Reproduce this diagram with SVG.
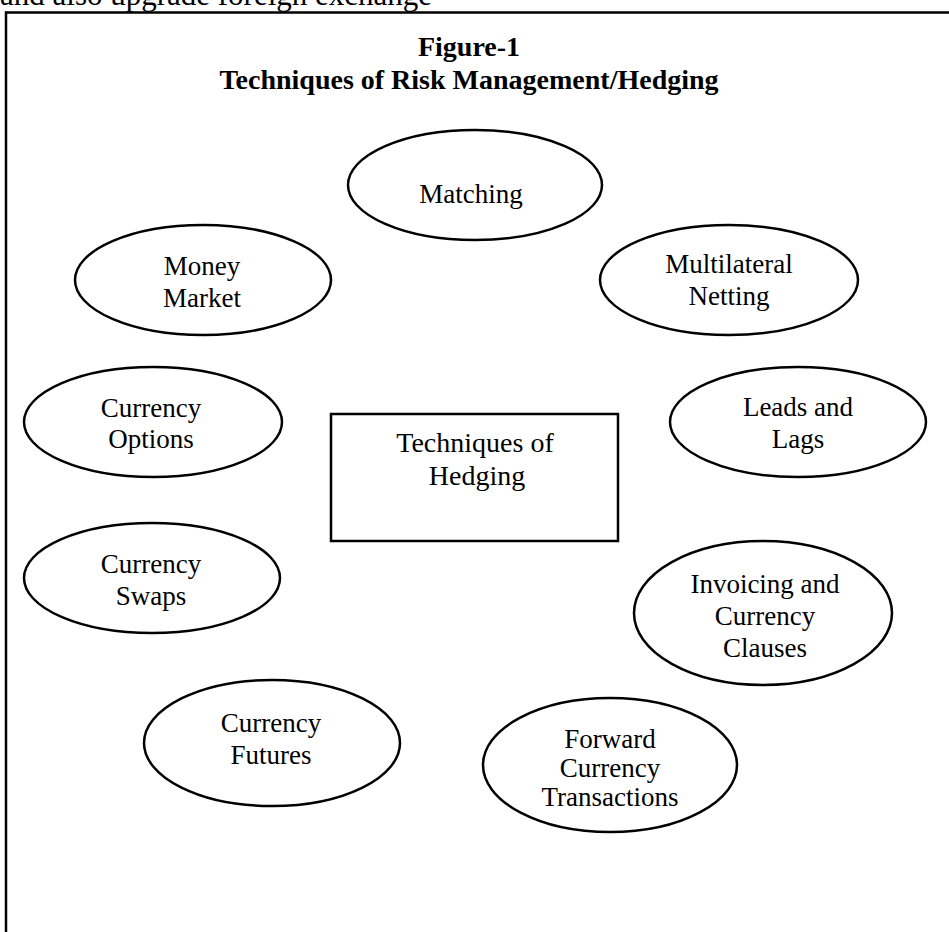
<svg xmlns="http://www.w3.org/2000/svg" width="949" height="932" viewBox="0 0 949 932">
<style>
.node ellipse, .node rect { fill: #ffffff; stroke: #000000; stroke-width: 2.5; }
.lbl { font-family: "Liberation Serif", "Times New Roman", serif; font-size: 27px; fill: #000; text-anchor: middle; }
.box { font-family: "Liberation Serif", "Times New Roman", serif; font-size: 28px; fill: #000; text-anchor: middle; }
.title { font-family: "Liberation Serif", "Times New Roman", serif; font-size: 28px; font-weight: bold; fill: #000; text-anchor: middle; }
.frame { fill: none; stroke: #000; stroke-width: 2.5; }
</style>
<rect width="949" height="932" fill="#ffffff"/>
<text x="0" y="5" font-family="Liberation Serif, serif" font-size="31" fill="#000">and also upgrade foreign exchange</text>
<path class="frame" d="M6,932 L6,12.5 L949,12.5"/>
<text class="title" x="469" y="56">Figure-1</text>
<text class="title" x="469" y="89">Techniques of Risk Management/Hedging</text>
<g id="connectors"></g>
<g id="matching" class="node">
  <ellipse cx="475" cy="185" rx="127" ry="55"/>
  <text class="lbl" x="471" y="203">Matching</text>
</g>
<g id="money-market" class="node">
  <ellipse cx="203" cy="280" rx="128" ry="55"/>
  <text class="lbl" x="202" y="275">Money</text>
  <text class="lbl" x="202" y="307">Market</text>
</g>
<g id="multilateral-netting" class="node">
  <ellipse cx="729" cy="280" rx="129" ry="55"/>
  <text class="lbl" x="729" y="273">Multilateral</text>
  <text class="lbl" x="729" y="305">Netting</text>
</g>
<g id="currency-options" class="node">
  <ellipse cx="153" cy="422" rx="129" ry="55"/>
  <text class="lbl" x="151" y="417">Currency</text>
  <text class="lbl" x="151" y="448">Options</text>
</g>
<g id="leads-lags" class="node">
  <ellipse cx="798" cy="422" rx="128" ry="55"/>
  <text class="lbl" x="798" y="416">Leads and</text>
  <text class="lbl" x="798" y="448">Lags</text>
</g>
<g id="techniques-of-hedging" class="node">
  <rect x="331" y="414" width="287" height="127"/>
  <text class="box" x="475" y="452">Techniques of</text>
  <text class="box" x="477" y="485">Hedging</text>
</g>
<g id="currency-swaps" class="node">
  <ellipse cx="152" cy="578" rx="128" ry="55"/>
  <text class="lbl" x="151" y="573">Currency</text>
  <text class="lbl" x="151" y="605">Swaps</text>
</g>
<g id="invoicing" class="node">
  <ellipse cx="763" cy="613" rx="129" ry="72"/>
  <text class="lbl" x="765" y="593">Invoicing and</text>
  <text class="lbl" x="765" y="625">Currency</text>
  <text class="lbl" x="765" y="657">Clauses</text>
</g>
<g id="currency-futures" class="node">
  <ellipse cx="272" cy="743" rx="128" ry="63"/>
  <text class="lbl" x="271" y="732">Currency</text>
  <text class="lbl" x="271" y="764">Futures</text>
</g>
<g id="forward" class="node">
  <ellipse cx="610" cy="765" rx="127" ry="67"/>
  <text class="lbl" x="610" y="748">Forward</text>
  <text class="lbl" x="610" y="777">Currency</text>
  <text class="lbl" x="610" y="806">Transactions</text>
</g>
</svg>
